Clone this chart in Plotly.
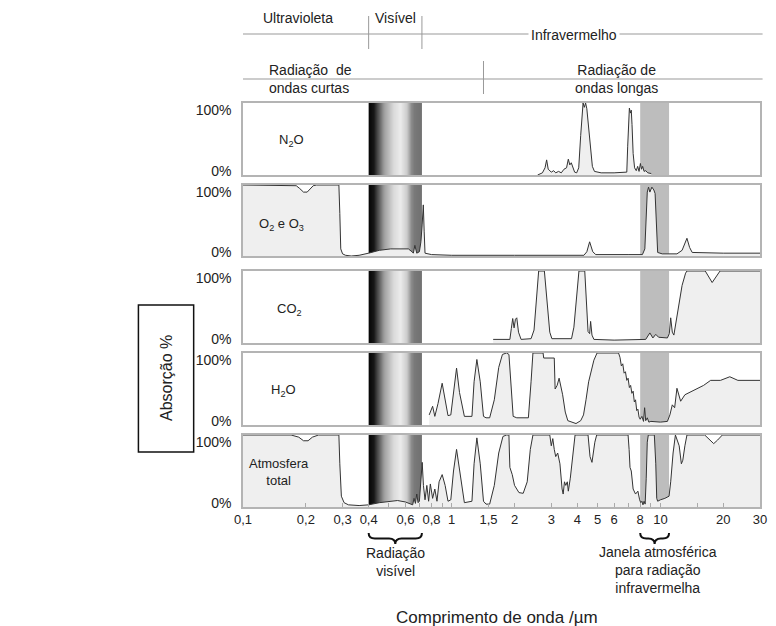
import math
import plotly.graph_objects as go

# ---------------- data (wavelength in µm, absorption in %) ----------------
N2O = [(2.58, 0), (2.72, 3), (2.8, 10), (2.85, 21), (2.9, 8), (3.0, 4), (3.08, 6), (3.15, 3),
       (3.25, 5), (3.35, 3), (3.45, 8), (3.55, 10), (3.62, 22), (3.68, 14), (3.74, 17), (3.8, 12),
       (3.88, 4), (3.97, 3), (4.06, 10), (4.15, 55), (4.22, 95), (4.26, 100), (4.32, 94), (4.38, 100),
       (4.44, 92), (4.52, 70), (4.62, 35), (4.72, 12), (4.83, 5), (5.2, 3), (6.0, 3), (6.9, 4),
       (6.97, 40), (7.04, 88), (7.1, 93), (7.18, 86), (7.25, 90), (7.31, 70), (7.4, 30), (7.52, 10),
       (7.66, 6), (7.78, 12), (7.9, 5), (8.02, 16), (8.12, 8), (8.22, 12), (8.35, 5), (8.5, 6),
       (8.7, 3), (9.04, 2)]

O2_O3 = [(0.1, 100), (0.17, 100), (0.18, 99), (0.187, 95), (0.195, 90), (0.203, 90), (0.21, 95),
         (0.217, 99), (0.225, 100), (0.288, 100), (0.291, 60), (0.294, 10), (0.3, 3), (0.31, 1),
         (0.33, 0), (0.36, 1), (0.4, 4), (0.45, 8), (0.51, 10), (0.62, 10), (0.645, 6), (0.655, 4),
         (0.666, 15), (0.68, 4), (0.7, 6), (0.712, 20), (0.722, 45), (0.731, 72), (0.738, 35),
         (0.745, 4), (0.8, 2), (1.0, 1), (2.0, 1), (4.3, 1), (4.44, 6), (4.58, 20), (4.74, 6),
         (4.9, 2), (7.0, 2), (8.2, 2), (8.42, 10), (8.55, 60), (8.65, 90), (8.77, 97), (8.9, 90),
         (9.1, 97), (9.3, 93), (9.43, 88), (9.55, 40), (9.7, 5), (10.2, 3), (12.0, 3), (12.7, 8),
         (13.1, 18), (13.4, 25), (13.8, 12), (14.2, 5), (20.0, 4), (30.0, 4)]

CO2 = [(1.58, 5), (1.9, 5), (1.93, 20), (1.96, 34), (1.99, 21), (2.02, 33), (2.05, 35), (2.09, 15),
       (2.15, 5), (2.4, 6), (2.48, 18), (2.55, 62), (2.61, 100), (2.78, 100), (2.86, 60), (2.95, 15),
       (3.02, 6), (3.75, 6), (3.85, 22), (3.97, 72), (4.07, 100), (4.34, 100), (4.42, 55), (4.5, 16),
       (4.58, 13), (4.63, 30), (4.7, 11), (4.8, 5), (6.0, 4), (7.9, 4), (8.5, 5), (8.9, 14), (9.2, 7),
       (9.5, 12), (9.8, 8), (10.8, 7), (11.03, 13), (11.2, 35), (11.4, 15), (11.6, 11), (12.0, 39),
       (12.7, 80), (13.2, 97), (13.4, 100), (16.4, 100), (17.7, 84), (19.3, 100), (30.0, 100)]

H2O = [(0.78, 14), (0.81, 26), (0.83, 12), (0.86, 30), (0.9, 58), (0.935, 30), (0.96, 13), (0.99, 14),
       (1.02, 45), (1.055, 79), (1.09, 45), (1.15, 12), (1.25, 12), (1.28, 60), (1.32, 91), (1.37, 60),
       (1.42, 12), (1.46, 10), (1.52, 10), (1.6, 35), (1.68, 80), (1.75, 98), (1.83, 100), (1.88, 98),
       (1.93, 50), (1.97, 12), (2.05, 10), (2.33, 10), (2.4, 60), (2.45, 100), (2.74, 100), (2.76, 93),
       (3.1, 93), (3.13, 50), (3.2, 55), (3.27, 65), (3.4, 42), (3.5, 18), (3.6, 6), (3.94, 2),
       (4.15, 6), (4.28, 14), (4.4, 35), (4.53, 60), (4.8, 90), (4.97, 100), (6.3, 100), (6.4, 94),
       (6.5, 82), (6.6, 85), (6.7, 72), (6.8, 74), (6.9, 62), (7.0, 65), (7.1, 52), (7.2, 55),
       (7.3, 44), (7.4, 47), (7.5, 32), (7.6, 35), (7.7, 20), (7.8, 22), (7.9, 11), (8.0, 8),
       (8.15, 12), (8.3, 5), (8.4, 24), (8.5, 6), (8.65, 10), (8.8, 4), (9.0, 5), (10.0, 4),
       (10.8, 5), (11.1, 14), (11.4, 28), (11.7, 24), (12.0, 51), (12.5, 33), (13.1, 42), (14.0, 46),
       (16.1, 55), (17.4, 62), (19.4, 62), (21.5, 67), (23.5, 62), (30.0, 62)]

TOTAL = [(0.1, 100), (0.17, 100), (0.185, 97), (0.195, 92), (0.205, 92), (0.215, 97), (0.23, 100),
         (0.288, 100), (0.291, 60), (0.296, 15), (0.305, 6), (0.32, 3), (0.36, 2), (0.4, 3),
         (0.45, 6), (0.5, 8), (0.55, 9), (0.6, 7), (0.63, 5), (0.65, 3), (0.66, 12), (0.67, 5),
         (0.68, 18), (0.69, 6), (0.7, 8), (0.712, 40), (0.722, 62), (0.732, 30), (0.745, 10),
         (0.76, 30), (0.775, 8), (0.79, 32), (0.81, 12), (0.83, 25), (0.85, 8), (0.87, 35),
         (0.9, 45), (0.93, 30), (0.96, 8), (0.99, 10), (1.02, 50), (1.055, 80), (1.09, 50),
         (1.15, 6), (1.25, 8), (1.28, 60), (1.32, 96), (1.37, 60), (1.42, 8), (1.46, 4), (1.52, 4),
         (1.6, 30), (1.68, 75), (1.76, 98), (1.83, 100), (1.88, 100), (1.89, 75), (1.9, 55),
         (1.95, 45), (2.0, 30), (2.1, 20), (2.2, 19), (2.3, 35), (2.38, 80), (2.45, 100), (2.95, 100),
         (3.0, 85), (3.05, 95), (3.1, 80), (3.15, 70), (3.22, 75), (3.3, 60), (3.38, 25), (3.42, 18),
         (3.47, 35), (3.52, 30), (3.58, 35), (3.62, 22), (3.7, 40), (3.8, 75), (3.9, 100), (4.5, 100),
         (4.6, 70), (4.7, 62), (4.78, 80), (4.85, 90), (4.95, 100), (7.0, 100), (7.08, 80),
         (7.15, 55), (7.25, 50), (7.4, 25), (7.6, 18), (7.8, 22), (7.95, 10), (8.05, 6), (8.15, 8),
         (8.25, 3), (8.35, 8), (8.45, 4), (8.55, 40), (8.65, 90), (8.75, 100), (9.35, 100),
         (9.5, 60), (9.6, 12), (9.7, 8), (10.0, 10), (10.5, 12), (11.0, 15), (11.2, 35), (11.5, 75),
         (11.8, 100), (12.3, 85), (12.6, 60), (12.8, 65), (13.1, 85), (13.4, 100), (16.3, 100),
         (17.3, 93), (18.0, 88), (18.8, 93), (19.8, 100), (30.0, 100)]

SERIES = [N2O, O2_O3, CO2, H2O, TOTAL]
PANEL_LABELS = ["N<sub>2</sub>O", "O<sub>2</sub> e O<sub>3</sub>", "CO<sub>2</sub>",
                "H<sub>2</sub>O", "Atmosfera<br>total"]

TICK_VALS = [0.1, 0.2, 0.3, 0.4, 0.6, 0.8, 1, 1.5, 2, 3, 4, 5, 6, 8, 10, 20, 30]
TICK_TEXT = ["0,1", "0,2", "0,3", "0,4", "0,6", "0,8", "1", "1,5", "2", "3", "4", "5",
             "6", "8", "10", "20", "30"]
MINOR_TICKS = [0.5, 0.7, 0.9, 7, 9, 15]

X_MIN, X_MAX = 0.1, 30.0
VISIBLE_BAND = (0.4, 0.72)
WINDOW_BAND = (8.0, 11.0)
SW_LW_SPLIT = 1.42

# gradient of the visible band: (fraction across band, grey level)
GRAD_STOPS = [(0.0, 0), (0.1, 8), (0.3, 150), (0.48, 215), (0.6, 232), (0.72, 200),
              (0.8, 135), (0.86, 118), (1.0, 115)]

# ---------------- layout geometry ----------------
W, H = 776, 626
L, R, T, B = 243, 9, 103, 119
PW, PH = W - L - R, H - T - B
PANEL_PX = [(103, 175), (185, 256), (271, 343), (353, 425), (435, 507)]
FONT = "Liberation Sans, Arial, Helvetica, sans-serif"
TXT = "#222222"


def py(ypx):
    return (H - B - ypx) / PH


def pxx(xpx):
    return (xpx - L) / PW


def lx(lam):
    return (math.log10(lam) - math.log10(X_MIN)) / (math.log10(X_MAX) - math.log10(X_MIN))


def grey(f):
    for (f0, g0), (f1, g1) in zip(GRAD_STOPS[:-1], GRAD_STOPS[1:]):
        if f0 <= f <= f1:
            g = int(round(g0 + (g1 - g0) * (f - f0) / (f1 - f0)))
            return f"rgb({g},{g},{g})"
    g = GRAD_STOPS[-1][1]
    return f"rgb({g},{g},{g})"


def note(x, y, text, size=14, **kw):
    d = dict(x=x, y=y, xref="paper", yref="paper", text=text, showarrow=False,
             xanchor="center", yanchor="middle", font=dict(family=FONT, size=size, color=TXT))
    d.update(kw)
    return d


fig = go.Figure()
shapes = []
annotations = []

for i, ser in enumerate(SERIES):
    n = i + 1
    xa = "x" if n == 1 else f"x{n}"
    ya = "y" if n == 1 else f"y{n}"
    fig.add_trace(go.Scatter(
        x=[p[0] for p in ser], y=[p[1] for p in ser], xaxis=xa, yaxis=ya,
        mode="lines", line=dict(color="#333333", width=1),
        fill="tozeroy", fillcolor="#efefef", hoverinfo="skip", showlegend=False))

    top, bot = PANEL_PX[i]
    dom = [py(bot), py(top)]
    last = (n == 5)
    xax = dict(
        type="log", range=[math.log10(X_MIN), math.log10(X_MAX)], domain=[0, 1], anchor=ya,
        showline=True, mirror=True, linecolor="#b4b4b4", linewidth=1.5,
        showgrid=False, zeroline=False, showticklabels=last)
    if last:
        xax.update(tickmode="array", tickvals=TICK_VALS, ticktext=TICK_TEXT,
                   ticks="inside", ticklen=4, tickcolor="#aaaaaa", tickwidth=1,
                   tickfont=dict(family=FONT, size=13, color=TXT),
                   minor=dict(tickmode="array", tickvals=MINOR_TICKS, ticks="inside",
                              ticklen=4, tickcolor="#aaaaaa", tickwidth=1, showgrid=False))
    else:
        xax.update(ticks="", tickmode="array", tickvals=[])
    fig.layout[f"xaxis{'' if n == 1 else n}"] = xax
    fig.layout[f"yaxis{'' if n == 1 else n}"] = dict(
        range=[0, 100], domain=dom, anchor=xa, showline=True, mirror=True,
        linecolor="#b4b4b4", linewidth=1.5, showgrid=False, zeroline=False,
        tickmode="array", tickvals=[5, 90], ticktext=["0%", "100%"], ticks="",
        ticklabelstandoff=7, tickfont=dict(family=FONT, size=14, color=TXT))

    yref = f"{ya} domain"
    # visible gradient band
    a, b = lx(VISIBLE_BAND[0]), lx(VISIBLE_BAND[1])
    NS = 54
    for k in range(NS):
        f0, f1 = k / NS, (k + 1) / NS
        shapes.append(dict(type="rect", xref="paper", yref=yref,
                           x0=a + f0 * (b - a), x1=min(b, a + f1 * (b - a) + 0.0006), y0=0, y1=1,
                           fillcolor=grey((k + 0.5) / NS), line=dict(width=0), layer="below"))
    # atmospheric window
    shapes.append(dict(type="rect", xref="paper", yref=yref,
                       x0=lx(WINDOW_BAND[0]), x1=lx(WINDOW_BAND[1]), y0=0, y1=1,
                       fillcolor="#bdbdbd", line=dict(width=0), layer="below"))

# panel labels
LABEL_POS = [(292, 140), (282, 224), (290, 309), (284, 390), (279, 472)]
for (xp, ypp), txt in zip(LABEL_POS, PANEL_LABELS):
    annotations.append(note(pxx(xp), py(ypp), txt, size=13))

# ---------------- header ----------------
LINE = dict(color="#999999", width=1)
shapes.append(dict(type="line", xref="paper", yref="paper", x0=0, x1=1.005, y0=py(34), y1=py(34), line=LINE))
shapes.append(dict(type="line", xref="paper", yref="paper", x0=0, x1=1.005, y0=py(79), y1=py(79), line=LINE))
for lam in VISIBLE_BAND:
    shapes.append(dict(type="line", xref="paper", yref="paper", x0=lx(lam), x1=lx(lam),
                       y0=py(16), y1=py(49), line=LINE))
shapes.append(dict(type="line", xref="paper", yref="paper", x0=lx(SW_LW_SPLIT), x1=lx(SW_LW_SPLIT),
                   y0=py(61), y1=py(94), line=LINE))

annotations += [
    note(pxx(299), py(18), "Ultravioleta"),
    note(pxx(398), py(18), "Visível"),
    note(pxx(578), py(35), "Infravermelho", bgcolor="white", borderpad=2),
    note(pxx(267), py(79), "Radiação  de<br>ondas curtas", xanchor="left", align="left"),
    note(pxx(622), py(79), "Radiação de<br>ondas longas"),
]


# ---------------- braces and bottom texts ----------------
def brace(xa, xb, ytop, ybot):
    y0, y1 = py(ytop), py(ybot)
    ym = (y0 + y1) / 2
    m = (xa + xb) / 2
    r = 0.012
    return (f"M{xa},{y0} Q{xa},{ym} {xa + r},{ym} L{m - r},{ym} Q{m},{ym} {m},{y1} "
            f"Q{m},{ym} {m + r},{ym} L{xb - r},{ym} Q{xb},{ym} {xb},{y0}")


for band in (VISIBLE_BAND, WINDOW_BAND):
    shapes.append(dict(type="path", xref="paper", yref="paper",
                       path=brace(lx(band[0]), lx(band[1]), 533, 544),
                       line=dict(color="#111111", width=2)))

annotations += [
    note((lx(VISIBLE_BAND[0]) + lx(VISIBLE_BAND[1])) / 2, py(562), "Radiação<br>visível"),
    note(pxx(664), py(570), "Janela atmosférica<br>para radiação<br>infravermelha"),
    note(pxx(500), py(617), "Comprimento de onda /µm", size=17),
]

# y-axis label in a box
shapes.append(dict(type="rect", xref="paper", yref="paper", x0=pxx(137), x1=pxx(193),
                   y0=py(452), y1=py(305), line=dict(color="#111111", width=1.5), fillcolor="white"))
annotations.append(note(pxx(165), py(378), "Absorção %", size=16, textangle=-90))

fig.update_layout(width=W, height=H, margin=dict(l=L, r=R, t=T, b=B),
                  paper_bgcolor="white", plot_bgcolor="white",
                  shapes=shapes, annotations=annotations, showlegend=False)

fig.write_html("out.html")
